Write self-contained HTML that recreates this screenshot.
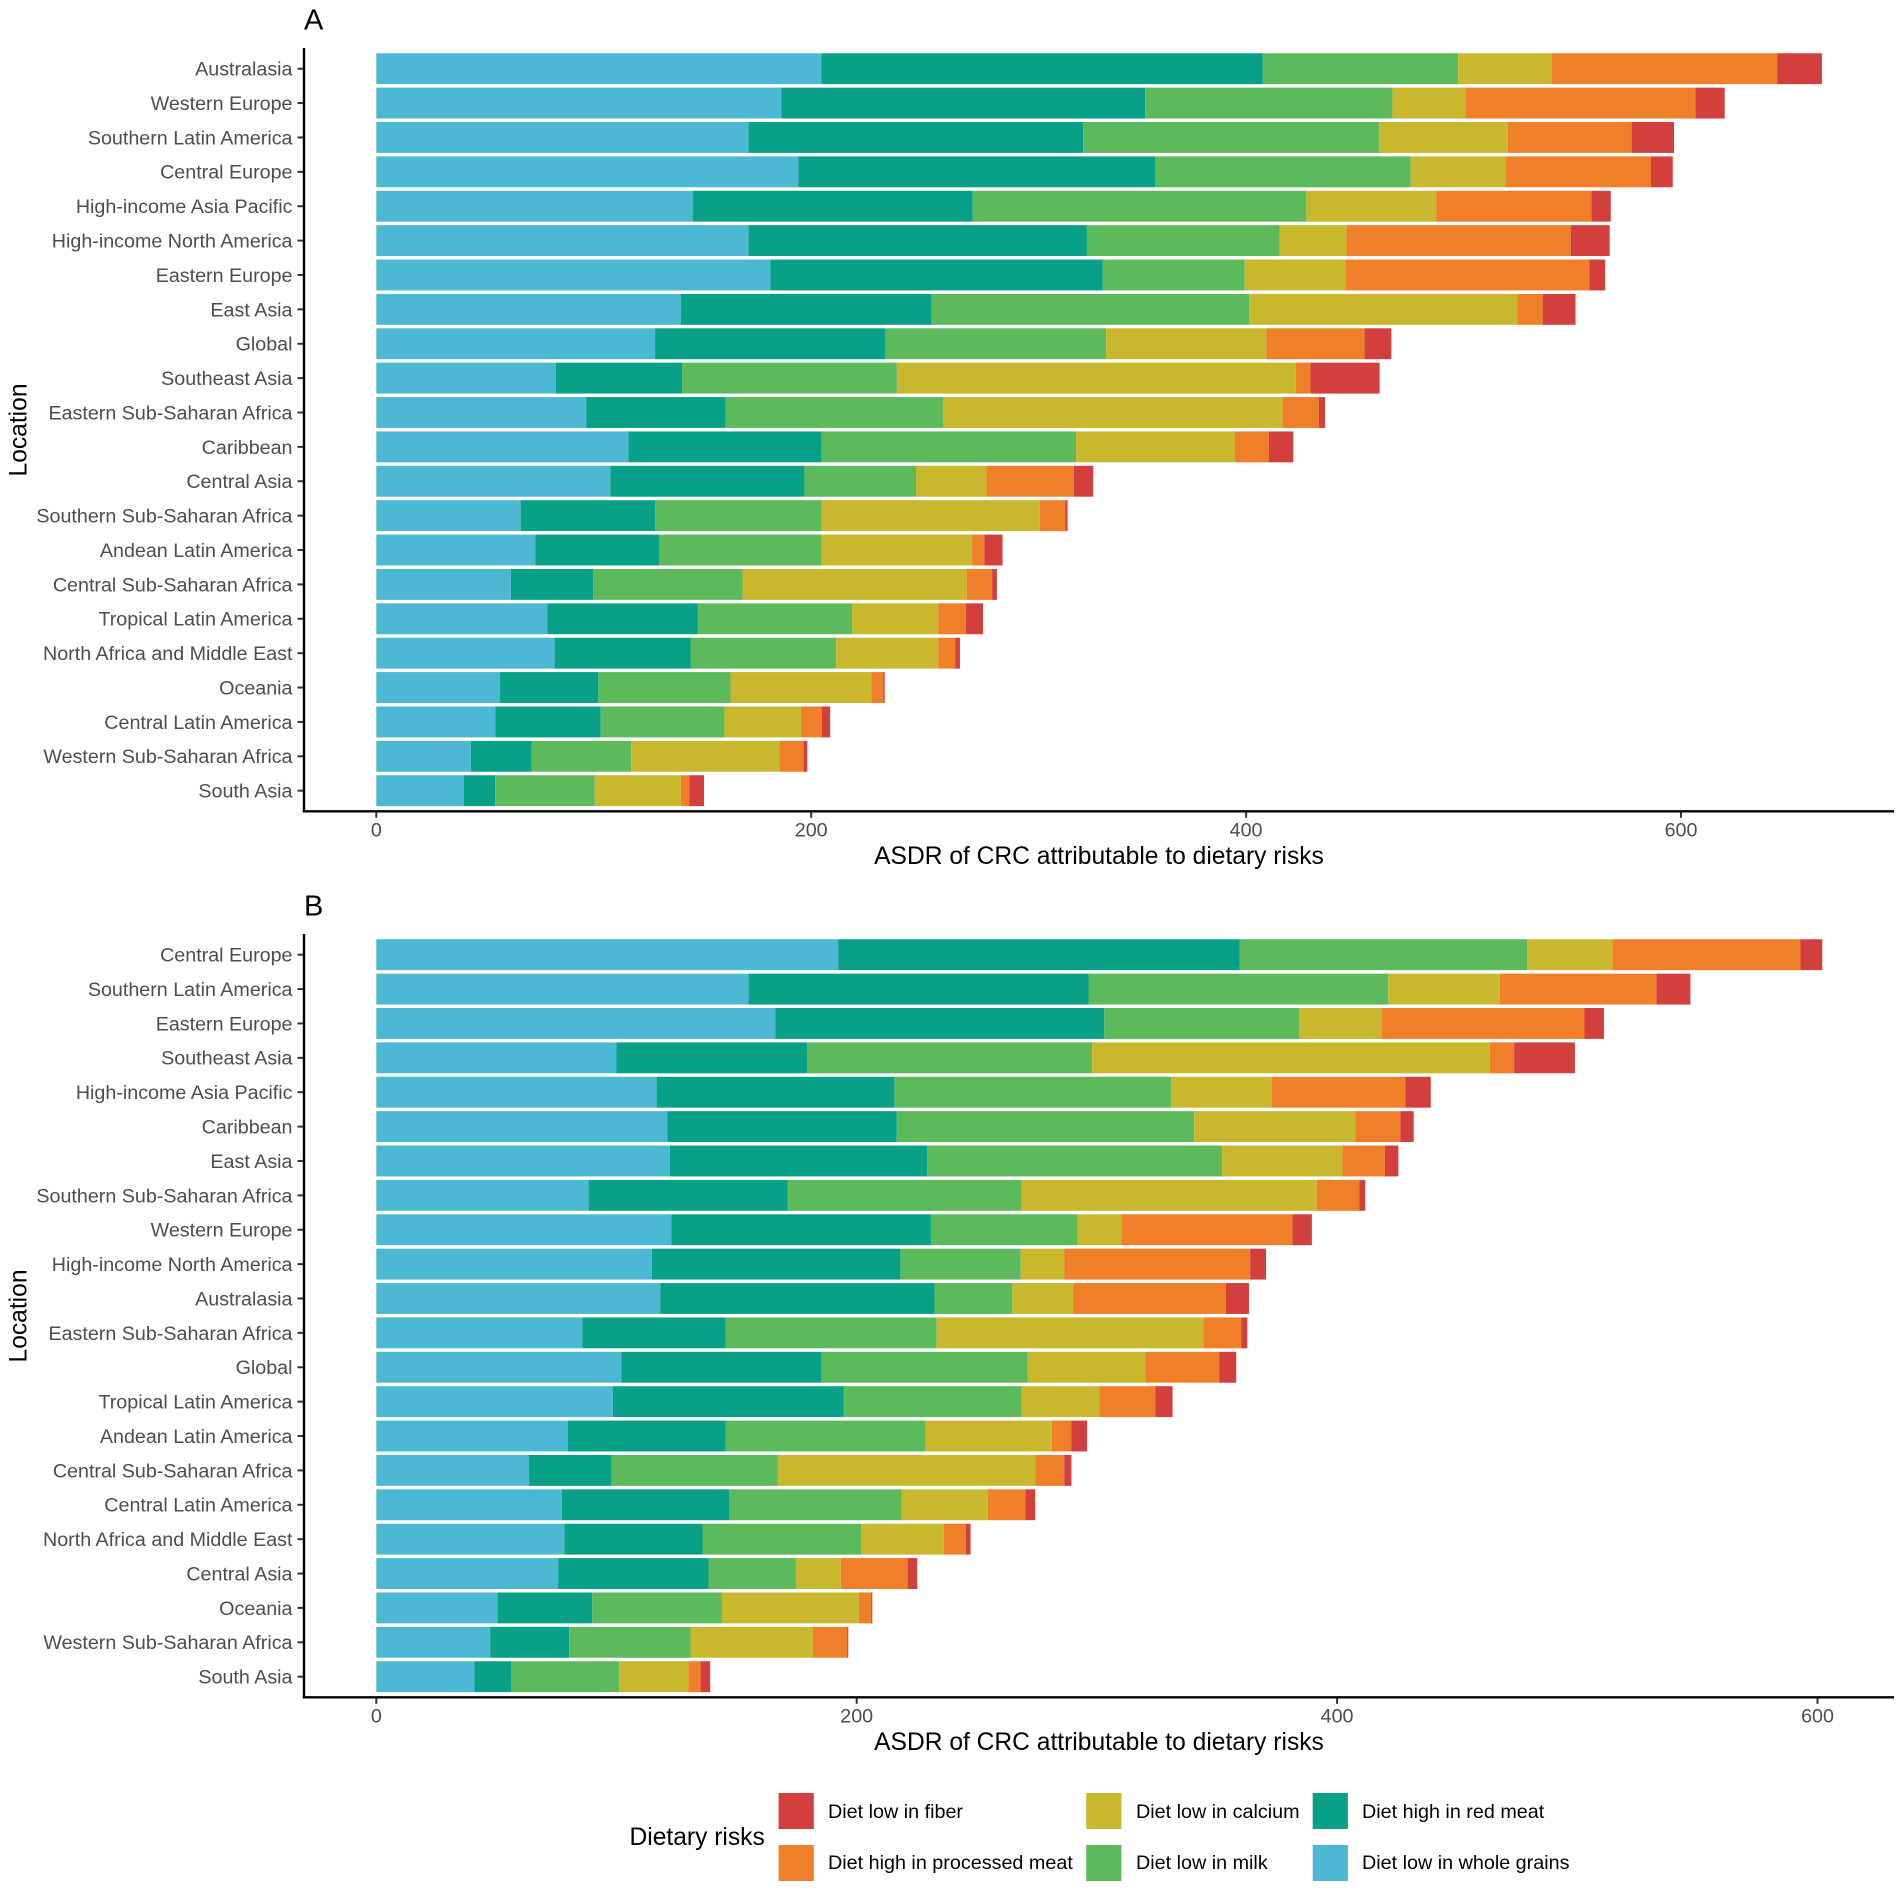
<!DOCTYPE html>
<html lang="en">
<head>
<meta charset="utf-8">
<title>ASDR of CRC attributable to dietary risks</title>
<style>
html,body{margin:0;padding:0;background:#fff;}
svg{display:block;font-family:"Liberation Sans",Arial,sans-serif;}
.tick{font-size:19.7px;fill:#4d4d4d;}
.title{font-size:24.6px;fill:#000;}
.legend-text{font-size:19.75px;fill:#000;}
.tag{font-size:29px;fill:#000;}
</style>
</head>
<body>
<svg id="chart" xmlns="http://www.w3.org/2000/svg" width="1902" height="1889" viewBox="0 0 1902 1889">
  <rect width="1902" height="1889" fill="#fff"/>
  <g id="panel-a"></g>
  <g id="panel-b"></g>
  <g>
    <text class="title" x="629.5" y="1845">Dietary risks</text>
    <g>
      <rect x="778.6" y="1793" width="35.2" height="36" fill="#D33F3D"/>
      <text class="legend-text" x="828" y="1818">Diet low in fiber</text>
    </g>
    <g>
      <rect x="778.6" y="1845" width="35.2" height="36" fill="#F07F29"/>
      <text class="legend-text" x="828" y="1869">Diet high in processed meat</text>
    </g>
    <g>
      <rect x="1086.2" y="1793" width="35.2" height="36" fill="#C9B82E"/>
      <text class="legend-text" x="1136" y="1818">Diet low in calcium</text>
    </g>
    <g>
      <rect x="1086.2" y="1845" width="35.2" height="36" fill="#5CBA5C"/>
      <text class="legend-text" x="1136" y="1869">Diet low in milk</text>
    </g>
    <g>
      <rect x="1312.7" y="1793" width="35.2" height="36" fill="#08A188"/>
      <text class="legend-text" x="1362" y="1818">Diet high in red meat</text>
    </g>
    <g>
      <rect x="1312.7" y="1845" width="35.2" height="36" fill="#4DB8D3"/>
      <text class="legend-text" x="1362" y="1869">Diet low in whole grains</text>
    </g>
  </g>
</svg>
<script>
// ---- Panel A data ----
var categoriesA = ["Australasia","Western Europe","Southern Latin America","Central Europe","High-income Asia Pacific","High-income North America","Eastern Europe","East Asia","Global","Southeast Asia","Eastern Sub-Saharan Africa","Caribbean","Central Asia","Southern Sub-Saharan Africa","Andean Latin America","Central Sub-Saharan Africa","Tropical Latin America","North Africa and Middle East","Oceania","Central Latin America","Western Sub-Saharan Africa","South Asia"];
var wholeGrainsA = [204.7,186.3,171.2,194.1,145.5,171.2,181.3,140.0,128.2,82.6,96.5,116.0,107.6,66.4,73.1,61.9,78.7,82.0,56.9,54.7,43.5,40.2];
var redMeatA     = [203.0,167.3,153.9,164.0,128.8,155.6,152.8,115.4,105.9,58.0,64.2,88.7,89.3,61.9,56.9,37.9,69.2,62.5,45.2,48.5,27.9,14.5];
var milkA        = [89.8,113.7,136.1,117.6,153.4,88.7,65.3,146.1,101.5,98.8,99.9,117.1,51.3,76.5,74.8,68.6,70.9,67.0,60.8,56.9,45.8,45.8];
var calciumA     = [43.0,33.5,59.2,43.5,59.7,30.7,46.3,123.2,73.7,183.5,156.2,73.1,32.4,100.3,69.2,103.1,39.6,46.9,64.7,35.2,68.1,39.6];
var processedA   = [103.7,105.9,56.9,67.0,71.4,103.1,112.1,11.7,45.2,6.7,16.7,15.6,40.2,11.7,5.6,11.7,12.8,7.8,5.6,9.5,11.2,3.9];
var fiberA       = [20.6,13.4,19.5,10.0,8.9,17.9,7.3,15.1,12.3,31.8,2.8,11.2,8.9,1.1,8.4,2.2,7.8,2.2,0.6,3.9,1.7,6.7];
var ticksA = [0,200,400,600];

// ---- Panel B data ----
var categoriesB = ["Central Europe","Southern Latin America","Eastern Europe","Southeast Asia","High-income Asia Pacific","Caribbean","East Asia","Southern Sub-Saharan Africa","Western Europe","High-income North America","Australasia","Eastern Sub-Saharan Africa","Global","Tropical Latin America","Andean Latin America","Central Sub-Saharan Africa","Central Latin America","North Africa and Middle East","Central Asia","Oceania","Western Sub-Saharan Africa","South Asia"];
var wholeGrainsB = [192.4,155.0,166.1,100.0,116.7,121.2,122.2,88.4,122.8,114.7,118.2,85.8,102.0,98.5,79.8,63.6,77.3,78.3,75.7,50.5,47.4,40.9];
var redMeatB     = [167.1,141.5,136.9,79.3,99.0,95.5,107.1,82.8,108.1,103.5,114.2,59.6,83.3,96.0,65.6,34.4,69.7,57.5,62.6,39.4,32.9,15.2];
var milkB        = [119.7,124.8,81.3,118.7,115.2,123.8,122.8,97.5,61.1,50.1,32.4,87.9,85.8,74.2,83.3,69.2,71.7,66.1,36.4,54.0,50.5,45.0];
var calciumB     = [35.4,46.5,34.4,165.6,42.0,67.1,50.1,122.8,18.2,18.2,25.3,111.1,49.0,32.4,52.5,107.1,35.9,34.4,18.7,57.0,51.0,28.8];
var processedB   = [78.3,65.1,84.3,10.1,55.5,18.7,17.7,17.7,71.2,77.3,63.6,15.7,30.8,23.3,8.1,12.1,15.7,9.1,27.8,5.1,14.2,5.1];
var fiberB       = [9.1,14.2,8.1,25.3,10.6,5.6,5.6,2.5,8.1,6.6,9.6,2.5,7.1,7.1,6.6,3.0,4.0,2.0,4.0,0.5,0.5,4.0];
var ticksB = [0,200,400,600];

var seriesNames = ["whole-grains","red-meat","milk","calcium","processed-meat","fiber"];
var seriesColors = ["#4DB8D3","#08A188","#5CBA5C","#C9B82E","#F07F29","#D33F3D"];

var NS = "http://www.w3.org/2000/svg";
function mk(parent, tag, attrs, txt) {
  var el = document.createElementNS(NS, tag);
  for (var k in attrs) el.setAttribute(k, attrs[k]);
  if (txt !== undefined) el.textContent = txt;
  parent.appendChild(el);
  return el;
}

function drawPanel(root, tag, cats, series, ticks, pxPerUnit, offsetY) {
  var x0 = 376.3, axisX = 304, axisRight = 1894;
  var top = 48 + offsetY, bottom = 811.3 + offsetY;
  var firstY = 68.7 + offsetY, step = 34.38, barH = 30.9;
  function xScale(v) { return x0 + v * pxPerUnit; }
  function yScale(i) { return firstY + i * step; }

  cats.forEach(function (cat, i) {
    var cum = 0;
    series.forEach(function (vals, s) {
      var left = xScale(cum);
      cum += vals[i];
      var r = mk(root, "rect", {x: left, y: yScale(i) - barH / 2, width: xScale(cum) - left, height: barH, fill: seriesColors[s]});
      
      
      r.setAttribute('data-series', seriesNames[s]);
      r.setAttribute('data-category', cat);
    });
    var t = mk(root, "line", {x1: axisX - 6.5, x2: axisX, y1: yScale(i), y2: yScale(i), stroke: "#333", "stroke-width": 2});
    
    
    var l = mk(root, "text", {"class": "tick", x: 292.5, y: yScale(i) + 6.9, "text-anchor": "end"}, cat);
    
    
  });

  ticks.forEach(function (v) {
    var t = mk(root, "line", {x1: xScale(v), x2: xScale(v), y1: bottom, y2: bottom + 6.5, stroke: "#333", "stroke-width": 2});
    
    
    var l = mk(root, "text", {"class": "tick", x: xScale(v), y: bottom + 25, "text-anchor": "middle"}, String(v));
    
    
  });

  var ya = mk(root, "line", {x1: axisX, x2: axisX, y1: top, y2: bottom + 1.2, stroke: "#000", "stroke-width": 2.4});
  
  
  var xa = mk(root, "line", {x1: axisX - 1.2, x2: axisRight, y1: bottom, y2: bottom, stroke: "#000", "stroke-width": 2.4});
  
  

  var xt = mk(root, "text", {"class": "title", x: 1099, y: 864 + offsetY, "text-anchor": "middle"}, "ASDR of CRC attributable to dietary risks");
  
  
  var yt = mk(root, "text", {"class": "title", x: 0, y: 0, "text-anchor": "middle", transform: "translate(26.5," + (430 + offsetY) + ") rotate(-90)"}, "Location");
  
  
  var pt = mk(root, "text", {"class": "tag", x: 304, y: 29.5 + offsetY}, tag);
  
  
}

drawPanel(document.getElementById("panel-a"), "A", categoriesA,
  [wholeGrainsA, redMeatA, milkA, calciumA, processedA, fiberA], ticksA, 2.1745, 0);
drawPanel(document.getElementById("panel-b"), "B", categoriesB,
  [wholeGrainsB, redMeatB, milkB, calciumB, processedB, fiberB], ticksB, 2.402, 886);
</script>
</body>
</html>
